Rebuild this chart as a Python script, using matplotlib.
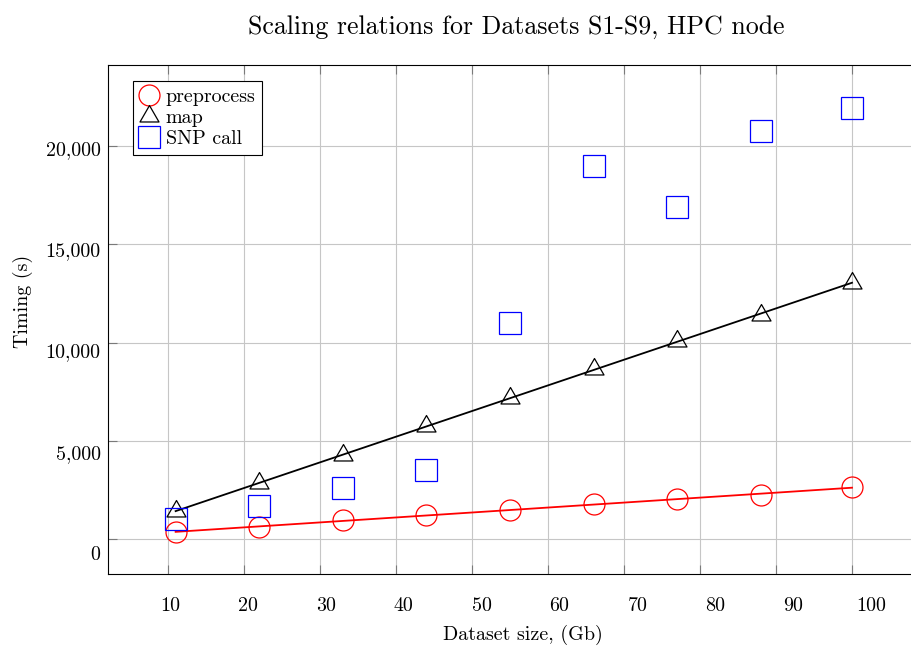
import numpy as np
import matplotlib
matplotlib.use('Agg')
from matplotlib import pyplot as plt
from matplotlib.path import Path

# dataset sizes (Gb) and timings (s)
size_gb = [11, 22, 33, 44, 55, 66, 77, 88, 100]
preprocess_s = [371, 610, 982, 1236, 1475, 1796, 2035, 2269, 2645]
map_s = [1419, 2848, 4273, 5773, 7202, 8642, 10087, 11424, 13021]
snp_call_s = [1033, 1694, 2609, 3540, 10987, 18988, 16887, 20783, 21953]

x_ticks = [10, 20, 30, 40, 50, 60, 70, 80, 90, 100]
x_tick_labels = ['10', '20', '30', '40', '50', '60', '70', '80', '90', '100']
y_ticks = [0, 5000, 10000, 15000, 20000]
y_tick_labels = ['0', '5,000', '10,000', '15,000', '20,000']

plt.rcParams['font.family'] = 'cmr10'
plt.rcParams['mathtext.fontset'] = 'cm'
plt.rcParams['axes.unicode_minus'] = False
plt.rcParams['font.size'] = 14.4

# pgfplots-like triangle: equilateral, centred on its circumcentre
tri = Path([(0, 1), (-0.866, -0.5), (0.866, -0.5), (0, 1)],
           [Path.MOVETO, Path.LINETO, Path.LINETO, Path.CLOSEPOLY])

fig = plt.figure(figsize=(9.12, 6.49), dpi=100)
# right edge of the axis box runs past the image border
ax = fig.add_axes([0.1184, 0.1151, 0.9, 0.7843])

x = np.array(size_gb)
for vals, color in [(preprocess_s, 'red'), (map_s, 'black')]:
    k, b = np.polyfit(x, vals, 1)
    ax.plot(x[[0, -1]], k * x[[0, -1]] + b, color=color, lw=1.3, zorder=3)

mk = dict(ls='none', mfc='none', mew=0.9, zorder=4)
ax.plot(size_gb, preprocess_s, marker='o', ms=15.1, mec='red', label='preprocess', **mk)
ax.plot(size_gb, map_s, marker=tri, ms=15.8, mec='black', label='map', **mk)
ax.plot(size_gb, snp_call_s, marker='s', ms=15.3, mec='blue', label='SNP call', **mk)

ax.set_xlim(2.1, 110.1)
ax.set_ylim(-1780, 24100)

# grid + tick marks on the real values, labels drawn slightly displaced
# (the original text layer is scaled a bit relative to the graphics)
ax.set_xticks(x_ticks)
ax.set_yticks(y_ticks)
ax.tick_params(which='major', direction='in', length=6.2, width=0.8,
               color='#7a7a7a', top=True, right=True,
               labelbottom=False, labelleft=False)
ax.set_xticks([t * 1.025 for t in x_ticks], labels=x_tick_labels, minor=True)
ax.set_yticks([t * 1.03 - 697 for t in y_ticks], labels=y_tick_labels, minor=True)
ax.tick_params(axis='x', which='minor', length=0, pad=16.5, labelsize=14.4)
ax.tick_params(axis='y', which='minor', length=0, pad=5.3, labelsize=14.4)

ax.grid(True, which='major', color='#c6c6c6', lw=0.8)
ax.set_axisbelow(True)
for sp in ax.spines.values():
    sp.set_linewidth(0.8)
    sp.set_color('black')

ax.set_title('Scaling relations for Datasets S1-S9, HPC node',
             fontsize=18.6, x=0.498, pad=23)
ax.set_xlabel('Dataset size, (Gb)', fontsize=14.4)
ax.xaxis.set_label_coords(0.505, -0.0995)
ax.set_ylabel('Timing (s)', fontsize=14.4)
ax.yaxis.set_label_coords(-0.0914, 0.537)

leg = ax.legend(loc='upper left', bbox_to_anchor=(0.0301, 0.969),
                borderaxespad=0, numpoints=1, fancybox=False, framealpha=1,
                edgecolor='black', borderpad=0.35, handlelength=0.95,
                handletextpad=0.35, labelspacing=0.14, fontsize=14.4)
leg.get_frame().set_linewidth(0.8)

fig.savefig('out.png', dpi=100)
